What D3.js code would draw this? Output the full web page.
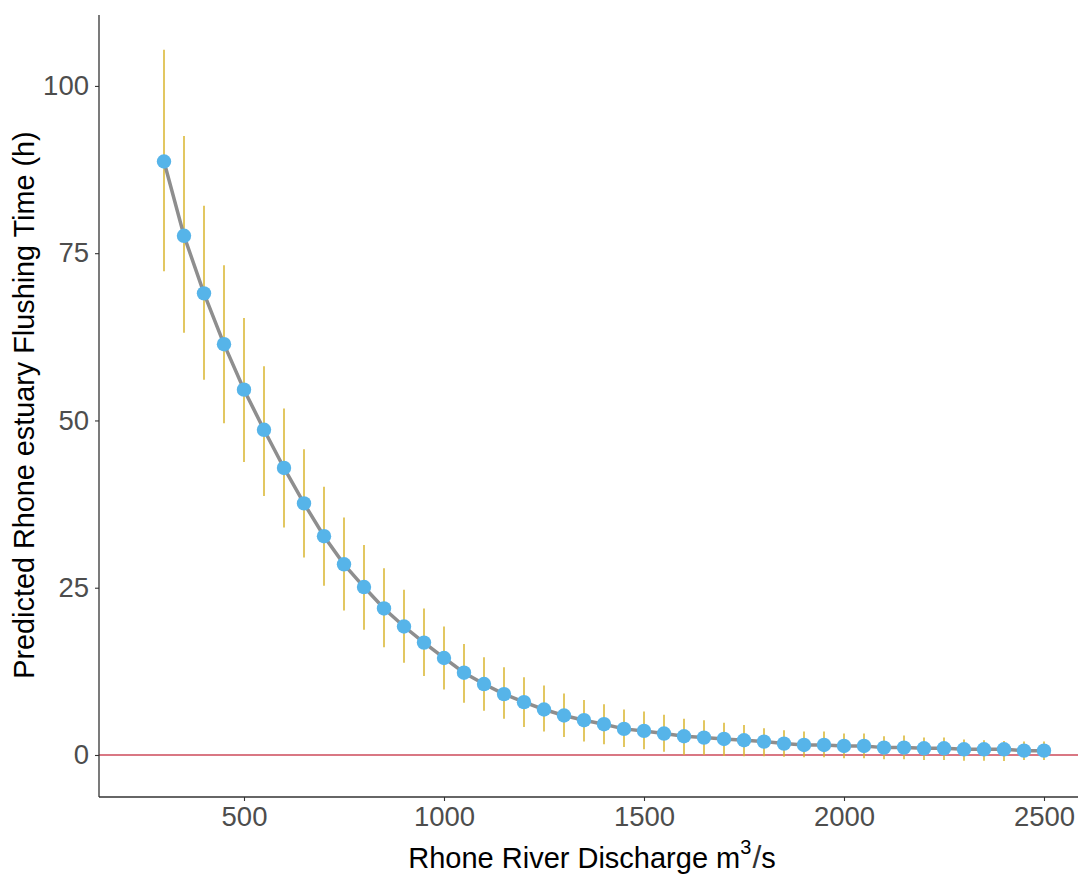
<!DOCTYPE html>
<html>
<head>
<meta charset="utf-8">
<script src="https://cdn.jsdelivr.net/npm/d3@7/dist/d3.min.js"></script>
<style>
html,body{margin:0;padding:0;background:#fff;}
svg{display:block;}
</style>
</head>
<body>
<svg id="chart" width="1078" height="874"></svg>
<script>
const discharge = [300,350,400,450,500,550,600,650,700,750,800,850,900,950,1000,1050,1100,1150,1200,1250,1300,1350,1400,1450,1500,1550,1600,1650,1700,1750,1800,1850,1900,1950,2000,2050,2100,2150,2200,2250,2300,2350,2400,2450,2500];
const flushing = [88.7,77.6,69.0,61.4,54.6,48.6,42.9,37.6,32.7,28.5,25.1,21.9,19.2,16.8,14.5,12.3,10.6,9.1,7.9,6.8,5.9,5.2,4.6,3.9,3.6,3.2,2.8,2.6,2.4,2.2,2.0,1.7,1.5,1.5,1.35,1.35,1.1,1.1,1.0,1.0,0.85,0.85,0.85,0.65,0.65];
const upper = [105.4,92.5,82.1,73.2,65.3,58.1,51.8,45.7,40.1,35.5,31.4,27.9,24.7,21.9,19.2,16.6,14.6,13.1,11.6,10.4,9.2,8.2,7.6,6.8,6.5,6.0,5.4,5.2,4.8,4.5,4.0,3.7,3.5,3.5,3.2,3.2,2.8,2.9,2.6,2.6,2.3,2.2,2.1,2.0,2.0];
const lower = [72.3,63.1,56.1,49.6,43.8,38.7,34.0,29.5,25.3,21.6,18.7,16.1,13.8,11.8,9.8,7.8,6.6,5.4,4.2,3.5,2.7,2.0,1.6,1.2,0.85,0.5,0.0,0.0,-0.15,-0.2,-0.2,-0.25,-0.35,-0.35,-0.5,-0.5,-0.65,-0.65,-0.75,-0.75,-0.85,-0.85,-0.9,-0.75,-0.75];
const xTicks = [500,1000,1500,2000,2500];
const yTicks = [0,25,50,75,100];
const refLine = 0;

const svg = d3.select("#chart");
const pLeft = 99, pRight = 1078, pTop = 15, pBottom = 797;
const x = d3.scaleLinear().domain([137.5, 2585]).range([pLeft, pRight]);
const y = d3.scaleLinear().domain([-6.28, 110.6]).range([pBottom, pTop]);

const data = discharge.map((d,i)=>({x:d, y:flushing[i], hi:upper[i], lo:lower[i]}));

// reference line
svg.append("line")
  .attr("x1", pLeft).attr("x2", pRight)
  .attr("y1", y(refLine)).attr("y2", y(refLine))
  .attr("stroke", "#cc4a5a").attr("stroke-width", 1.5);

// error bars
svg.append("g").selectAll("line").data(data).join("line")
  .attr("x1", d=>x(d.x)).attr("x2", d=>x(d.x))
  .attr("y1", d=>y(d.lo)).attr("y2", d=>y(d.hi))
  .attr("stroke", "#d8b52c").attr("stroke-width", 1.5);

// line
svg.append("path").datum(data)
  .attr("fill","none").attr("stroke","#8e8e8e").attr("stroke-width",3.5)
  .attr("d", d3.line().x(d=>x(d.x)).y(d=>y(d.y)));

// points
svg.append("g").selectAll("circle").data(data).join("circle")
  .attr("cx", d=>x(d.x)).attr("cy", d=>y(d.y)).attr("r", 7.2)
  .attr("fill", "#56b4e9");

// axes
const xAxis = svg.append("g").attr("transform", `translate(0,${pBottom})`)
  .call(d3.axisBottom(x).tickValues(xTicks).tickSize(4).tickPadding(5).tickFormat(d3.format("d")));
xAxis.select(".domain").attr("d", `M${pLeft},0H${pRight}`);
const yAxis = svg.append("g").attr("transform", `translate(${pLeft},0)`)
  .call(d3.axisLeft(y).tickValues(yTicks).tickSize(4).tickPadding(6).tickFormat(d3.format("d")));
yAxis.select(".domain").attr("d", `M0,${pTop}V${pBottom}`);

[xAxis, yAxis].forEach(a=>{
  a.select(".domain").attr("stroke","#333").attr("stroke-width",1.3);
  a.selectAll(".tick line").attr("stroke","#333").attr("stroke-width",1.1);
  a.selectAll(".tick text").attr("fill","#4d4d4d")
    .attr("font-family","'Liberation Sans', Arial, sans-serif").attr("font-size","27.5px");
});
xAxis.selectAll(".tick text").attr("dy","0.71em").attr("y", 9);

// x title
const xt = svg.append("text")
  .attr("x", 592).attr("y", 868)
  .attr("text-anchor","middle")
  .attr("font-family","'Liberation Sans', Arial, sans-serif").attr("font-size","29px")
  .attr("fill","#000");
xt.append("tspan").text("Rhone River Discharge m");
xt.append("tspan").attr("dy", -14).attr("font-size","20px").text("3");
xt.append("tspan").attr("dy", 14).attr("font-size","32px").attr("font-weight","300").attr("fill","#333").attr("dx", 1).text("/");
xt.append("tspan").text("s");

// y title
svg.append("text")
  .attr("transform", "translate(34,405) rotate(-90)")
  .attr("text-anchor","middle")
  .attr("font-family","'Liberation Sans', Arial, sans-serif").attr("font-size","28.8px")
  .attr("fill","#000")
  .text("Predicted Rhone estuary Flushing Time (h)");
</script>
</body>
</html>
